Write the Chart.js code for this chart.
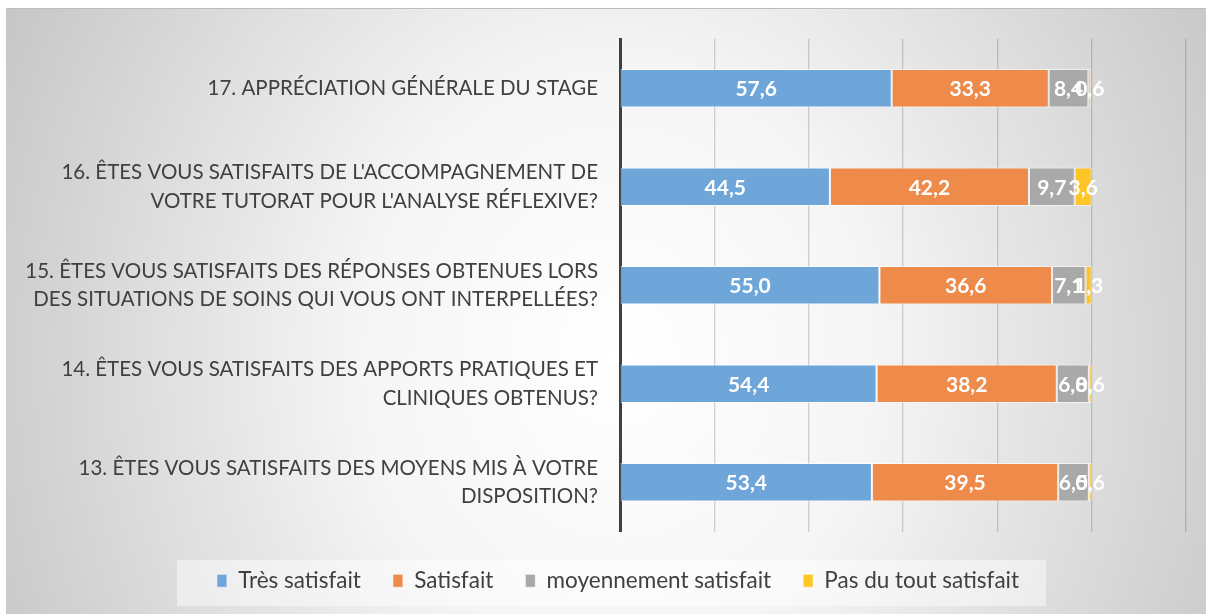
<!DOCTYPE html>
<html>
<head>
<meta charset="utf-8">
<script src="https://cdn.jsdelivr.net/npm/chart.js@4"></script>
<style>
  body { margin: 0; background: #fff; }
  #wrap {
    position: absolute; left: 6px; top: 8px; width: 1200px; height: 606px;
    border-top: 1px solid #bdbdbd; box-sizing: border-box;
    background: radial-gradient(ellipse 62% 140% at 51% 58%, #ffffff 0%, #f5f5f5 35%, #c0c0c0 100%);
  }
</style>
</head>
<body>
<div id="wrap"><canvas id="myChart"></canvas></div>
<script>
const categories = [
    ['17. APPRÉCIATION GÉNÉRALE DU STAGE'],
    ["16. ÊTES VOUS SATISFAITS DE L'ACCOMPAGNEMENT DE", "VOTRE TUTORAT POUR L'ANALYSE RÉFLEXIVE?"],
    ['15. ÊTES VOUS SATISFAITS DES RÉPONSES OBTENUES LORS', 'DES SITUATIONS DE SOINS QUI VOUS ONT INTERPELLÉES?'],
    ['14. ÊTES VOUS SATISFAITS DES APPORTS PRATIQUES ET', 'CLINIQUES OBTENUS?'],
    ['13. ÊTES VOUS SATISFAITS DES MOYENS MIS À VOTRE', 'DISPOSITION?']
];
const tresSatisfait = [57.6, 44.5, 55.0, 54.4, 53.4];
const satisfait = [33.3, 42.2, 36.6, 38.2, 39.5];
const moyennement = [8.4, 9.7, 7.1, 6.8, 6.5];
const pasDuTout = [0.6, 3.6, 1.3, 0.6, 0.6];
const seriesNames = ['Très satisfait', 'Satisfait', 'moyennement satisfait', 'Pas du tout satisfait'];
const xTicks = [0, 20, 40, 60, 80, 100, 120];

const FONT = 'Lato';

// labels drawn in the middle of each segment, like Excel does
const barLabels = {
    id: 'barLabels',
    afterDatasetsDraw(chart) {
        const c = chart.ctx;
        c.save();
        c.font = 'bold 21px ' + FONT;
        c.fillStyle = '#ffffff';
        c.textAlign = 'center';
        c.textBaseline = 'middle';
        chart.data.datasets.forEach((ds, i) => {
            chart.getDatasetMeta(i).data.forEach((bar, j) => {
                const p = bar.getProps(['x', 'y', 'base'], true);
                const txt = ds.data[j].toFixed(1).replace('.', ',');
                c.fillText(txt, (p.x + p.base) / 2, p.y + 1);
            });
        });
        c.restore();
    }
};

// light box behind the legend, legend nudged to the right
const legendBox = {
    id: 'legendBox',
    afterLayout(chart) {
        chart.legend.left = 44;
    },
    beforeDraw(chart) {
        const c = chart.ctx;
        c.save();
        c.fillStyle = 'rgba(255,255,255,0.45)';
        c.fillRect(171, 551, 869, 46);
        c.restore();
    }
};

const ctx = document.getElementById('myChart').getContext('2d');
let myChart = new Chart(ctx, {
    type: 'bar',
    data: {
        labels: categories,
        datasets: [
            { label: seriesNames[0], data: tresSatisfait, backgroundColor: '#6fa6da' },
            { label: seriesNames[1], data: satisfait, backgroundColor: '#ee8b4b' },
            { label: seriesNames[2], data: moyennement, backgroundColor: '#a9a9a9' },
            { label: seriesNames[3], data: pasDuTout, backgroundColor: '#fdc526' }
        ].map(d => Object.assign(d, {
            borderColor: 'rgba(255,255,255,0.6)',
            borderWidth: 1,
            borderSkipped: false,
            barPercentage: 0.39,
            categoryPercentage: 1
        }))
    },
    options: {
        indexAxis: 'y',
        responsive: true,
        maintainAspectRatio: false,
        animation: false,
        layout: { padding: { left: 0, right: 20, top: 30, bottom: 12 } },
        scales: {
            x: {
                stacked: true,
                min: 0,
                max: 120,
                afterBuildTicks: s => { s.ticks = xTicks.map(v => ({ value: v })); },
                afterFit: s => { s.height = 6; },
                ticks: { display: false },
                grid: { color: 'rgba(60,60,60,0.22)', lineWidth: 1.3, drawTicks: false },
                border: { display: false }
            },
            y: {
                stacked: true,
                afterFit: s => {
                    s.width = 614;
                    s.paddingTop = 0;
                    s.paddingBottom = 0;
                },
                grid: { display: false, drawTicks: false },
                border: { color: '#404040', width: 3 },
                ticks: {
                    padding: 22,
                    color: '#404040',
                    font: { family: FONT, size: 20.5, lineHeight: 1.4 }
                }
            }
        },
        plugins: {
            legend: {
                position: 'bottom',
                labels: {
                    color: '#404040',
                    font: { family: FONT, size: 22.5 },
                    boxWidth: 10,
                    boxHeight: 13,
                    padding: 32
                }
            },
            tooltip: { enabled: false }
        }
    },
    plugins: [barLabels, legendBox]
});
</script>
</body>
</html>
